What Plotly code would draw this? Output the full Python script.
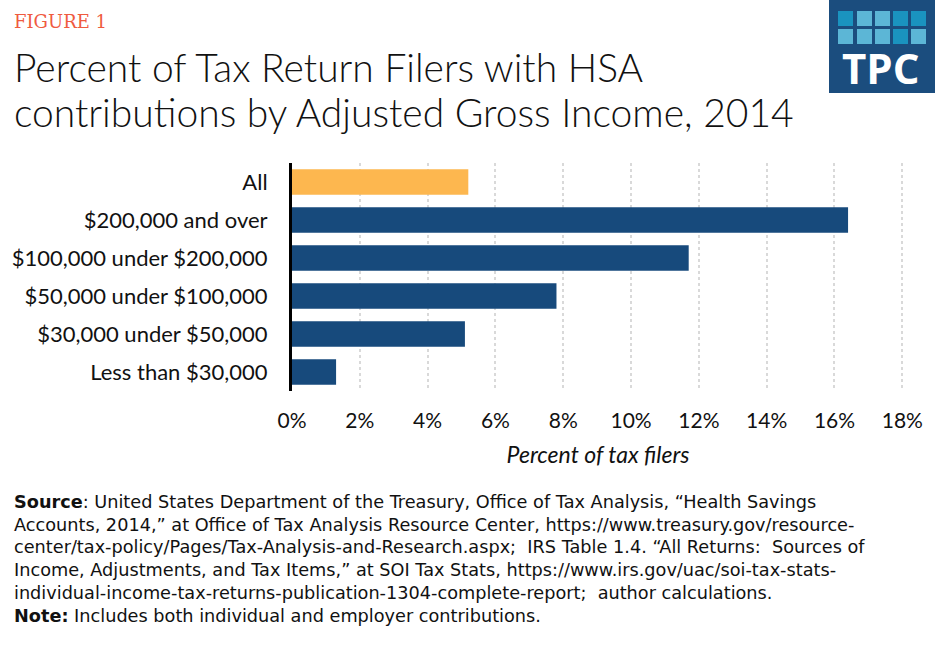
import plotly.graph_objects as go

# income groups, top to bottom as in the figure
groups = ["All", "$200,000 and over", "$100,000 under $200,000",
          "$50,000 under $100,000", "$30,000 under $50,000", "Less than $30,000"]
pct = [5.2, 16.4, 11.7, 7.8, 5.1, 1.3]
bar_colors = ["#FDB74F", "#174A7C", "#174A7C", "#174A7C", "#174A7C", "#174A7C"]
x_ticks = [0, 2, 4, 6, 8, 10, 12, 14, 16, 18]

title_lines = ["Percent of Tax Return Filers with HSA",
               "contributions by Adjusted Gross Income, 2014"]
source_lines = [
    "<b>Source</b>: United States Department of the Treasury, Office of Tax Analysis, “Health Savings",
    "Accounts, 2014,” at Office of Tax Analysis Resource Center, https://www.treasury.gov/resource-",
    "center/tax-policy/Pages/Tax-Analysis-and-Research.aspx;  IRS Table 1.4. “All Returns:  Sources of",
    "Income, Adjustments, and Tax Items,” at SOI Tax Stats, https://www.irs.gov/uac/soi-tax-stats-",
    "individual-income-tax-returns-publication-1304-complete-report;  author calculations.",
    "<b>Note:</b> Includes both individual and employer contributions.",
]

W, H = 943, 666
L, R, T, B = 292, 39, 163, 275
LABEL_FONT = "Lato, 'Noto Sans', sans-serif"


def px(x):
    # page pixel -> paper x
    return (x - L) / (W - L - R)


def py(y):
    # page pixel (from top) -> paper y
    return (H - B - y) / (H - T - B)


fig = go.Figure(go.Bar(
    x=pct, y=groups, orientation="h",
    marker=dict(color=bar_colors, line_width=0),
    hovertemplate="%{y}: %{x:.1f}%<extra></extra>",
))

fig.update_layout(
    width=W, height=H,
    margin=dict(l=L, r=R, t=T, b=B, autoexpand=False),
    paper_bgcolor="white", plot_bgcolor="white",
    bargap=0.33, showlegend=False,
    font=dict(family=LABEL_FONT, color="#111111"),
)

fig.update_xaxes(
    range=[0, 18.05], tickvals=x_ticks, ticktext=[f"{v}%" for v in x_ticks],
    showgrid=True, gridcolor="#D9D9D9", griddash="dot", gridwidth=2,
    zeroline=False, showline=False, ticks="", automargin=False,
    tickfont=dict(size=21, family=LABEL_FONT), ticklabelstandoff=15,
    title=dict(text="<i>Percent of tax filers</i>", standoff=15,
               font=dict(size=23, family=LABEL_FONT)),
)
fig.update_yaxes(
    autorange="reversed", showgrid=False, zeroline=False, automargin=False,
    showline=True, linecolor="black", linewidth=3, ticks="",
    tickfont=dict(size=22, family=LABEL_FONT), ticklabelstandoff=17,
)

# header
fig.add_annotation(text="FIGURE 1", x=px(12), y=py(21), xref="paper", yref="paper",
                   xanchor="left", yanchor="middle", showarrow=False,
                   font=dict(size=18, family="'DejaVu Serif', serif", color="#EF5B3F"))
for i, line in enumerate(title_lines):
    fig.add_annotation(text=line, x=px(12), y=py(67 + 45 * i), xref="paper", yref="paper",
                       xanchor="left", yanchor="middle", showarrow=False,
                       font=dict(size=39, family=LABEL_FONT, color="#111111", weight=300))

# TPC logo
fig.add_shape(type="rect", xref="paper", yref="paper", x0=px(829), x1=px(935),
              y0=py(93), y1=py(0), fillcolor="#1B4D7E", line_width=0, layer="above")
sq_x = [838, 857, 875, 893, 911]
sq_y = [11, 29]
sq_col = [["#1A93BF", "#5CB6D6", "#5CB6D6", "#1A93BF", "#1A93BF"],
          ["#5CB6D6", "#5CB6D6", "#5CB6D6", "#1A93BF", "#5CB6D6"]]
for r, yy in enumerate(sq_y):
    for c, xx in enumerate(sq_x):
        fig.add_shape(type="rect", xref="paper", yref="paper",
                      x0=px(xx), x1=px(xx + 15), y0=py(yy + 15), y1=py(yy),
                      fillcolor=sq_col[r][c], line_width=0, layer="above")
fig.add_annotation(text="<b>TPC</b>", x=px(880), y=py(68), xref="paper", yref="paper",
                   xanchor="center", yanchor="middle", showarrow=False,
                   font=dict(size=42, family="'Open Sans', sans-serif", color="white"))

# source and note
for i, line in enumerate(source_lines):
    fig.add_annotation(text=line, x=px(12), y=py(502 + 22.7 * i), xref="paper", yref="paper",
                       xanchor="left", yanchor="middle", showarrow=False,
                       font=dict(size=17.7, family="'DejaVu Sans', sans-serif", color="#111111"))

fig.write_html("out.html", config={"displayModeBar": False},
               post_script="document.body.style.margin='0';")
